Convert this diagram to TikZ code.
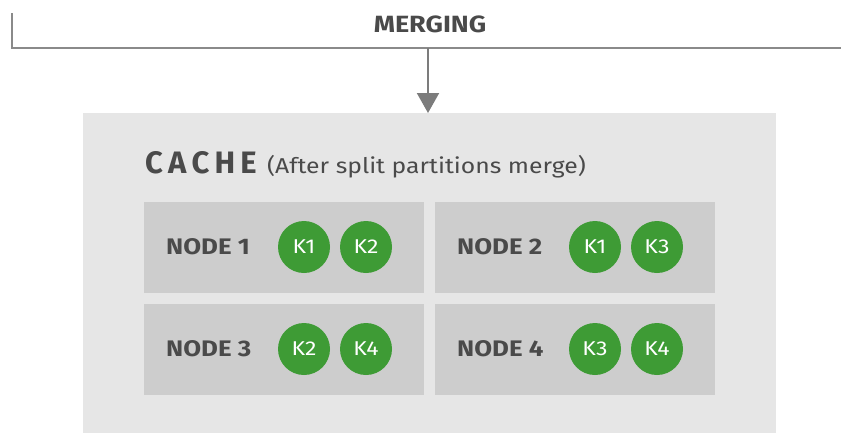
\documentclass[tikz,border=0pt]{standalone}
\usepackage{fontspec}
\setmainfont{Fira Sans}
\newfontfamily\widefont[FakeStretch=1.15]{Fira Sans}
\usetikzlibrary{arrows.meta}
\definecolor{txt}{HTML}{4A4A4A}
\definecolor{linegray}{HTML}{8A8A8A}
\definecolor{cachebg}{HTML}{E6E6E6}
\definecolor{nodebg}{HTML}{CDCDCD}
\definecolor{kgreen}{HTML}{3E9B35}
\tikzset{
  nodebox/.style={fill=nodebg, draw=none, minimum width=280pt, minimum height=91pt, anchor=north west, inner sep=0pt},
  nodelabel/.style={text=txt, font=\widefont\fontsize{22.5}{26}\selectfont\bfseries, anchor=west, inner sep=0pt},
  keycirc/.style={circle, fill=kgreen, minimum size=52pt, inner sep=0pt, text=white, font=\widefont\fontsize{20}{24}\selectfont},
  conn/.style={draw=linegray, line width=2pt},
}
\begin{document}
\begin{tikzpicture}[x=1pt, y=-1pt]
\useasboundingbox (0,0) rectangle (841,432);
% merging bracket
\coordinate (bl) at (12,13);
\coordinate (bc) at (12,48);
\coordinate (br) at (845,48);
\coordinate (ar) at (428,48);
\draw[conn, line cap=butt] (bl) -- (bc) -- (br);
\node[text=txt, font=\widefont\fontsize{23.5}{26}\selectfont\bfseries, inner sep=0pt] (merging) at (430,24) {MERGING};
% cache box
\node[fill=cachebg, minimum width=693pt, minimum height=325pt, anchor=north west, inner sep=0pt] (cache) at (83,113) {};
\draw[draw=linegray!90!black, line width=2pt, -{Triangle[length=20pt, width=22pt]}] (ar) -- (cache.north -| ar);
\node[text=txt, font=\fontsize{31}{34}\selectfont\bfseries, anchor=base west, inner sep=0pt] (cachet) at (145,173) {C\,A\,C\,H\,E};
\node[text=txt, font=\widefont\fontsize{21.5}{24}\selectfont, anchor=base west, inner sep=0pt] (sub) at (267,173) {(After split partitions merge)};
% nodes
\node[nodebox] (n1) at (144,202) {};
\node[nodebox] (n2) at (435,202) {};
\node[nodebox] (n3) at (144,304) {};
\node[nodebox] (n4) at (435,304) {};
\node[nodelabel] (l1) at (166,247) {NODE 1};
\node[nodelabel] (l2) at (457,247) {NODE 2};
\node[nodelabel] (l3) at (166,349) {NODE 3};
\node[nodelabel] (l4) at (457,349) {NODE 4};
\node[keycirc] (n1a) at (304,247) {K1};
\node[keycirc] (n1b) at (366,247) {K2};
\node[keycirc] (n2a) at (595,247) {K1};
\node[keycirc] (n2b) at (657,247) {K3};
\node[keycirc] (n3a) at (304,349) {K2};
\node[keycirc] (n3b) at (366,349) {K4};
\node[keycirc] (n4a) at (595,349) {K3};
\node[keycirc] (n4b) at (657,349) {K4};
\end{tikzpicture}
\end{document}
